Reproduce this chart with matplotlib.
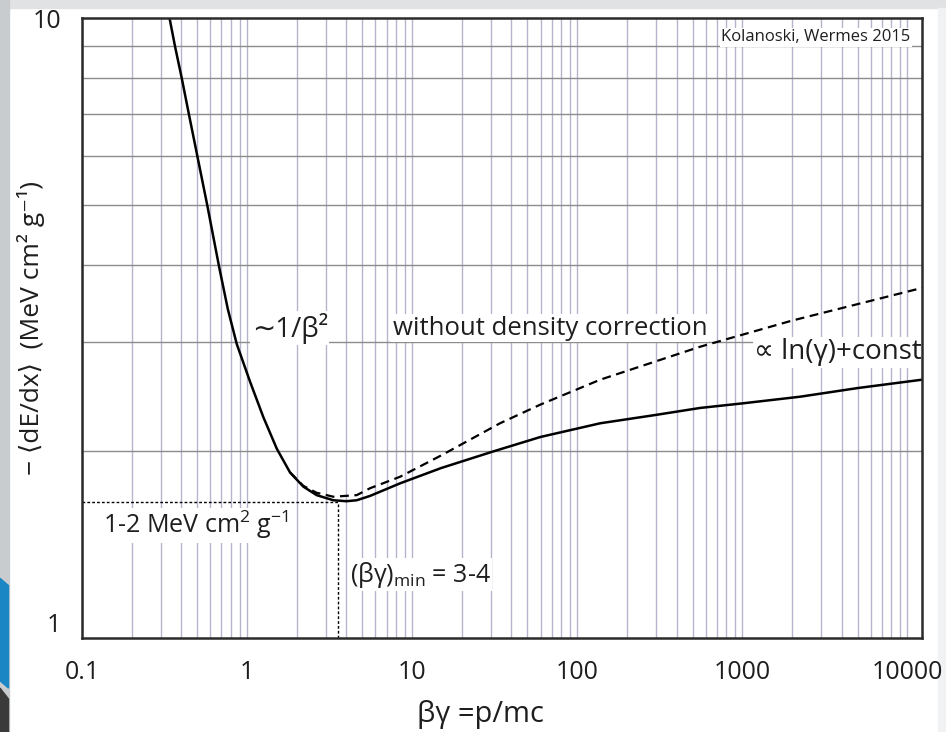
import matplotlib
matplotlib.use('Agg')
import matplotlib.pyplot as plt
from matplotlib.patches import Rectangle, Polygon

plt.rcParams['font.family'] = ['Open Sans', 'DejaVu Sans']
plt.rcParams['mathtext.fontset'] = 'custom'
plt.rcParams['mathtext.rm'] = 'Open Sans'
plt.rcParams['mathtext.it'] = 'Open Sans:italic'

# Bethe curve with density correction
bg_with = [0.339, 0.366, 0.402, 0.444, 0.499, 0.573, 0.677, 0.765, 0.866, 1.043, 1.256, 1.514,
           1.82, 2.19, 2.64, 3.33, 4.0, 4.62, 5.56, 8.45, 15, 31.1, 60, 138, 300, 556,
           1000, 2240, 5000, 12300]
dedx_with = [10, 9, 8, 7, 6, 5, 3.97, 3.39, 2.98, 2.59, 2.27, 2.02,
             1.85, 1.755, 1.70, 1.668, 1.662, 1.668, 1.695, 1.776, 1.88, 2.0, 2.11, 2.22, 2.29, 2.35,
             2.39, 2.45, 2.53, 2.61]

# without density correction (coincides with the solid curve below ~1.8)
bg_without = [1.82, 2.19, 2.64, 3.33, 4.62, 5.56, 8.45, 15, 34.1, 60, 138, 556, 2000, 12300]
dedx_without = [1.85, 1.76, 1.715, 1.69, 1.70, 1.744, 1.82, 1.97, 2.22, 2.38, 2.61, 2.95, 3.25, 3.67]

bg_min = 3.56
dedx_min = 1.66

x_ticks = [0.1, 1, 10, 100, 1000, 10000]
x_ticklabels = ['0.1', '1', '10', '100', '1000', '10000']
y_ticks = [1, 10]
y_ticklabels = ['1', '10']
h_grid = [2, 3, 4, 5, 6, 7, 8, 9]
v_mult = [1, 2, 3, 4, 5, 6, 7, 8, 9]

fig = plt.figure(figsize=(9.46, 7.32), dpi=100)

# slide background around the chart
fig.add_artist(Rectangle((0, 0.989), 1, 0.011, transform=fig.transFigure, color='#e0e2e4', zorder=-5))
fig.add_artist(Rectangle((0, 0), 0.009, 1, transform=fig.transFigure, color='#c8cccf', zorder=-5))
fig.add_artist(Rectangle((0.992, 0), 0.008, 0.989, transform=fig.transFigure, color='#f1f2f3', zorder=-5))
fig.add_artist(Polygon([(0, 0.21), (0.009, 0.20), (0.009, 0.06), (0, 0.07)], closed=True,
                       transform=fig.transFigure, color='#1a86c4', zorder=-4))
fig.add_artist(Polygon([(0, 0.06), (0.009, 0.045), (0.009, 0.0), (0, 0.0)], closed=True,
                       transform=fig.transFigure, color='#3a3a3a', zorder=-4))

ax = fig.add_axes([0.0867, 0.1284, 0.888, 0.847])
ax.set_xscale('log')
ax.set_yscale('log')
ax.set_xlim(0.1, 12300)
ax.set_ylim(1, 10)

# grid
for d in x_ticks:
    for m in v_mult:
        v = d * m
        if v < 12300:
            ax.axvline(v, color='#b4b4cc', lw=1.0, zorder=1)
for h in h_grid:
    ax.axhline(h, color='#8c8c8c', lw=1.0, zorder=1)

# curves
ax.plot(bg_without, dedx_without, color='black', lw=1.6, ls=(0, (4, 2.5)), zorder=3)
ax.plot(bg_with, dedx_with, color='black', lw=1.8, zorder=4, solid_joinstyle='round')

# minimum markers
ax.plot([0.1, bg_min], [dedx_min, dedx_min], color='black', lw=1.0, ls=(0, (2, 1.5)), zorder=3)
ax.plot([bg_min, bg_min], [1, dedx_min], color='black', lw=1.0, ls=(0, (2, 1.5)), zorder=3)

box = dict(facecolor='white', edgecolor='none', pad=1)
tc = '#1e1e1e'
fs = 18
ax.text(1.82, 3.16, '∼1/β²', fontsize=20, ha='center', va='center', color=tc, bbox=box, zorder=5)
ax.text(68.5, 3.16, 'without density correction', fontsize=18.5, ha='center', va='center',
        color=tc, bbox=box, zorder=5)
ax.text(3820, 2.89, '∝ ln(γ)+const', fontsize=20, ha='center', va='center', color=tc, bbox=box, zorder=5)
ax.text(0.491, 1.52, '1-2 MeV cm$^2$ g$^{-1}$', fontsize=fs, ha='center', va='center',
        color=tc, bbox=box, zorder=5)
ax.text(4.2, 1.264, '(βγ)$_{\\mathrm{min}}$ = 3-4', fontsize=fs, ha='left', va='center',
        color=tc, bbox=box, zorder=5)
ax.text(0.986, 0.969, 'Kolanoski, Wermes 2015', transform=ax.transAxes, fontsize=12,
        ha='right', va='center', color=tc, bbox=box, zorder=5)

ax.set_xticks(x_ticks)
ax.set_xticklabels(x_ticklabels)
ax.set_yticks(y_ticks)
ax.set_yticklabels(y_ticklabels)
ax.minorticks_off()
ax.tick_params(axis='both', length=0, labelsize=fs, colors=tc)
ax.tick_params(axis='x', pad=16)
ax.tick_params(axis='y', pad=15)
ax.get_yticklabels()[0].set_va('bottom')

ax.set_xlabel('βγ =p/mc', fontsize=21, color=tc)
ax.xaxis.label.set_va('center')
ax.xaxis.set_label_coords(0.474, -0.1226)
ax.set_ylabel('− ⟨dE/dx⟩  (MeV cm² g⁻¹)', fontsize=19, color=tc)
ax.yaxis.set_label_coords(-0.044, 0.5)

for s in ax.spines.values():
    s.set_color('#2a2a2a')
    s.set_linewidth(1.8)
    s.set_zorder(6)

fig.savefig('out.png', dpi=100)
